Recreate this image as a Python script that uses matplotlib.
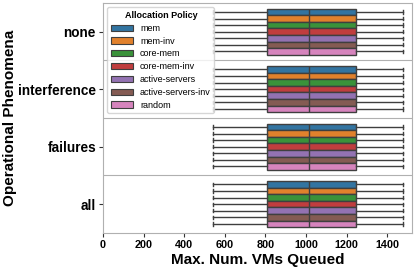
import colorsys
import numpy as np
import matplotlib
matplotlib.use("Agg")
import matplotlib.pyplot as plt
from matplotlib.colors import to_rgb
from matplotlib.patches import Patch

plt.rcParams['font.family'] = ['Liberation Sans', 'DejaVu Sans']

phenomena = ["none", "interference", "failures", "all"]
policies = ["mem", "mem-inv", "core-mem", "core-mem-inv",
            "active-servers", "active-servers-inv", "random"]

# box stats per phenomenon (same for every policy)
whislo = [543, 543, 543, 543]
q1 = [806, 806, 806, 806]
med = [1016, 1016, 1016, 1016]
q3 = [1245, 1245, 1245, 1245]
whishi = [1476, 1476, 1476, 1476]

base_colors = ["#1f77b4", "#ff7f0e", "#2ca02c", "#d62728",
               "#9467bd", "#8c564b", "#e377c2"]


def desaturate(c, prop=0.75):
    h, l, s = colorsys.rgb_to_hls(*to_rgb(c))
    return colorsys.hls_to_rgb(h, l, s * prop)


colors = [desaturate(c) for c in base_colors]
line_c = "#3f3f3f"
grid_c = "#b0b0b0"

fig = plt.figure(figsize=(4.15, 2.68), dpi=100)
ax = fig.add_axes([0.248, 0.131, 0.745, 0.858])

n = len(policies)
w = 0.8 / n
for j, pol in enumerate(policies):
    stats = []
    pos = []
    for i, ph in enumerate(phenomena):
        stats.append(dict(whislo=whislo[i], q1=q1[i], med=med[i], q3=q3[i],
                          whishi=whishi[i], fliers=[]))
        pos.append(i - 0.4 + w * (j + 0.5))
    ax.bxp(stats, positions=pos, widths=w, vert=False, patch_artist=True,
           showfliers=False, capwidths=w * 0.5, manage_ticks=False,
           boxprops=dict(facecolor=colors[j], edgecolor=line_c, linewidth=1),
           medianprops=dict(color=line_c, linewidth=1),
           whiskerprops=dict(color=line_c, linewidth=1),
           capprops=dict(color=line_c, linewidth=1))

for b in [0.5, 1.5, 2.5]:
    ax.axhline(b, color=grid_c, linewidth=0.8, zorder=0)

ax.set_ylim(3.5, -0.5)
ax.set_yticks(range(len(phenomena)))
ax.set_yticklabels(phenomena, fontsize=9.8, fontweight="bold")
ax.autoscale(axis="x")
ax.set_xlim(left=0)
ax.set_xticks([0, 200, 400, 600, 800, 1000, 1200, 1400])
for t in ax.get_xticklabels():
    t.set_fontsize(7.8)
    t.set_fontweight("bold")
ax.tick_params(axis="both", length=3, width=0.8, color="#333333", pad=2)
for s in ax.spines.values():
    s.set_color(grid_c)
    s.set_linewidth(0.8)

ax.set_xlabel("Max. Num. VMs Queued", fontsize=11, fontweight="bold", labelpad=2)
ax.set_ylabel("Operational Phenomena", fontsize=11, fontweight="bold")
ax.yaxis.set_label_coords(-0.279, 0.5)

handles = [Patch(facecolor=colors[j], edgecolor=line_c, linewidth=0.8, label=p)
           for j, p in enumerate(policies)]
leg = ax.legend(handles=handles, title="Allocation Policy", loc="upper left",
                fontsize=6.5, title_fontproperties={"weight": "bold", "size": 6.5},
                handlelength=2.4, labelspacing=0.42,
                framealpha=0.8, edgecolor="#cccccc", fancybox=True)

fig.savefig("out.png", dpi=100)
